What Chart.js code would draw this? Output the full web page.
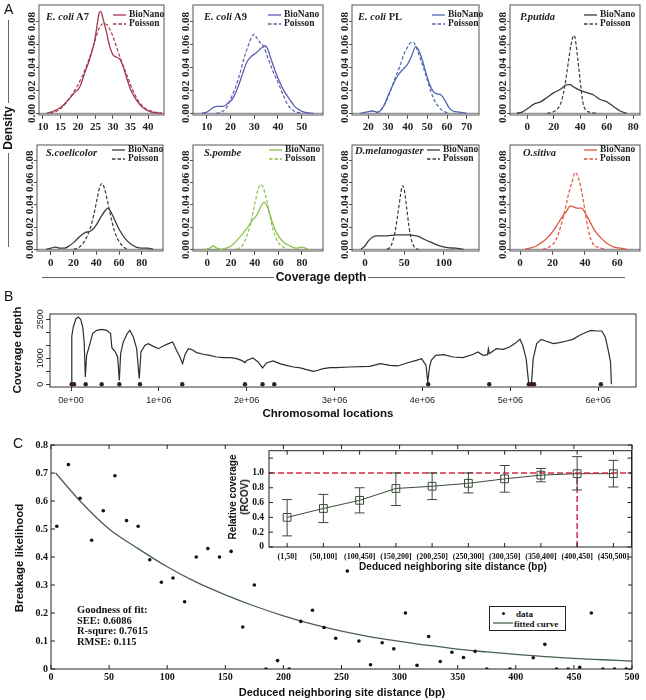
<!DOCTYPE html>
<html><head><meta charset="utf-8">
<script src="https://cdn.jsdelivr.net/npm/chart.js@4.4.1/dist/chart.umd.min.js"></script>
<style>
html,body{margin:0;padding:0;background:#fff;}
body{width:646px;height:700px;position:relative;overflow:hidden;}
canvas{position:absolute;}
.t{position:absolute;white-space:nowrap;line-height:1;color:#111;}
.sans{font-family:"Liberation Sans",Arial,sans-serif;font-weight:bold;}
.serif{font-family:"Liberation Serif","Times New Roman",serif;font-weight:bold;}
.ln{position:absolute;background:#666;}
</style></head><body>
<script>
// ================= DATA =================
// Panel A: kernel density of coverage depth  [depth, density]
const ecoliA7_BioNano = [[11,0],[13,0.002],[15,0.005],[17,0.011],[19,0.018],[20.5,0.023],[22,0.036],[23.3,0.047],[24.8,0.064],[25.5,0.078],[26,0.087],[26.5,0.089],[27.2,0.082],[28.2,0.070],[29.1,0.058],[30,0.051],[31,0.049],[32,0.047],[33,0.040],[34,0.030],[35,0.021],[36.6,0.012],[38.5,0.005],[41,0.001],[44,0]];
const ecoliA7_Poisson = [[12,0],[14,0.002],[16,0.007],[18,0.015],[20,0.025],[22,0.038],[24,0.055],[25,0.065],[26,0.074],[27,0.078],[28,0.078],[29,0.074],[30,0.067],[31,0.058],[32,0.049],[33,0.041],[34,0.033],[35,0.025],[36,0.018],[37,0.012],[38.5,0.006],[40,0.003],[42,0.001],[44,0]];
const ecoliA9_BioNano = [[8,0],[10,0.001],[12,0.004],[14,0.006],[17,0.006],[19,0.009],[21,0.013],[23,0.022],[25,0.034],[27,0.045],[29,0.050],[31,0.053],[33,0.057],[34.5,0.059],[35.5,0.057],[37,0.048],[39,0.036],[41,0.026],[43,0.018],[45,0.012],[47,0.006],[49,0.003],[51,0.001],[55,0]];
const ecoliA9_Poisson = [[14,0],[16,0.001],[18,0.004],[20,0.012],[22,0.022],[24,0.035],[26,0.050],[28,0.062],[29,0.067],[30,0.069],[31,0.066],[32,0.063],[34,0.058],[36,0.047],[38,0.036],[40,0.027],[42,0.017],[44,0.008],[46,0.003],[48,0.001],[50,0]];
const ecoliPL_BioNano = [[16,0],[19,0.001],[22,0.002],[25,0.001],[28,0.007],[30,0.015],[32,0.023],[35,0.033],[38,0.039],[40,0.043],[42,0.050],[44,0.058],[45,0.057],[47,0.049],[49,0.037],[51,0.026],[53,0.019],[55,0.017],[57,0.016],[59,0.011],[61,0.005],[63,0.002],[66,0.001],[70,0]];
const ecoliPL_Poisson = [[24,0],[27,0.004],[30,0.014],[33,0.028],[36,0.041],[38,0.051],[40,0.058],[42,0.062],[43,0.062],[44,0.059],[46,0.050],[48,0.040],[50,0.029],[52,0.018],[54,0.010],[56,0.005],[58,0.002],[61,0]];
const putida_BioNano = [[-8,0],[-4,0.001],[0,0.004],[5,0.008],[10,0.010],[15,0.014],[20,0.018],[25,0.021],[30,0.025],[32,0.025],[35,0.023],[40,0.020],[45,0.018],[50,0.016],[55,0.012],[60,0.010],[65,0.006],[70,0.002],[75,0]];
const putida_Poisson = [[15,0],[19,0.001],[22,0.003],[25,0.008],[27,0.016],[29,0.029],[31,0.045],[33,0.060],[35,0.068],[36,0.066],[37,0.058],[39,0.038],[40,0.027],[42,0.009],[44,0.003],[47,0.001],[52,0]];
const scoel_BioNano = [[-4,0],[0,0.001],[4,0.002],[8,0.001],[12,0.001],[16,0.003],[20,0.006],[25,0.011],[30,0.015],[34,0.016],[37,0.018],[40,0.022],[44,0.029],[48,0.035],[50,0.037],[52,0.035],[55,0.029],[60,0.018],[65,0.010],[70,0.005],[75,0.002],[80,0.001],[85,0.001],[90,0]];
const scoel_Poisson = [[20,0],[25,0.002],[30,0.008],[35,0.020],[38,0.032],[41,0.047],[43,0.056],[45,0.059],[47,0.055],[50,0.042],[53,0.028],[56,0.016],[60,0.007],[64,0.002],[68,0]];
const spombe_BioNano = [[-2,0],[2,0.001],[5,0.003],[8,0.001],[12,0],[16,0.001],[20,0.003],[25,0.008],[30,0.014],[35,0.021],[38,0.026],[40,0.028],[43,0.033],[46,0.040],[48,0.042],[50,0.040],[53,0.031],[56,0.021],[60,0.012],[65,0.006],[70,0.003],[75,0.001],[80,0.002],[85,0]];
const spombe_Poisson = [[25,0],[30,0.004],[35,0.017],[38,0.030],[41,0.045],[43,0.054],[45,0.058],[47,0.056],[50,0.045],[53,0.030],[56,0.016],[60,0.006],[64,0.002],[68,0]];
const dmel_BioNano = [[-5,0],[0,0.003],[5,0.008],[10,0.011],[15,0.012],[25,0.012],[40,0.013],[55,0.013],[65,0.012],[70,0.011],[75,0.009],[85,0.006],[95,0.003],[105,0.0015],[115,0.001],[125,0]];
const dmel_Poisson = [[28,0],[33,0.003],[38,0.015],[42,0.033],[45,0.048],[47,0.056],[48,0.057],[50,0.053],[53,0.037],[56,0.020],[60,0.006],[64,0.001],[68,0]];
const osat_BioNano = [[3,0],[6,0.001],[10,0.003],[15,0.008],[18,0.012],[22,0.020],[26,0.029],[29,0.035],[31,0.039],[33,0.038],[35,0.037],[38,0.037],[40,0.033],[43,0.025],[46,0.017],[50,0.010],[54,0.005],[58,0.002],[62,0.001],[66,0]];
const osat_Poisson = [[14,0],[18,0.002],[22,0.008],[25,0.020],[28,0.037],[30,0.050],[32,0.060],[34,0.069],[36,0.064],[38,0.052],[40,0.035],[42,0.018],[44,0.008],[46,0.003],[48,0.002],[50,0.001],[53,0]];
const densityYTicks = [0,0.02,0.04,0.06,0.08];
const densityYLabels = ['0.00','0.02','0.04','0.06','0.08'];
const ticksA7 = [10,15,20,25,30,35,40];
const ticksA9 = [10,20,30,40,50];
const ticksPL = [20,30,40,50,60,70];
const ticks0to80 = [0,20,40,60,80];
const ticksDmel = [0,50,100];
const ticksOsat = [0,20,40,60];

// Panel B: coverage depth along chromosome  [position (Mb), depth]
const coverageTrack = [[0.005,0],[0.009,1850],[0.026,2205],[0.057,2525],[0.083,2590],[0.11,2500],[0.133,2205],[0.15,1630],[0.163,280],[0.178,1115],[0.21,1500],[0.246,1950],[0.292,2075],[0.35,2115],[0.406,2075],[0.45,1950],[0.466,1400],[0.50,1270],[0.531,1050],[0.55,150],[0.565,1180],[0.595,1630],[0.64,1950],[0.67,2075],[0.71,1820],[0.747,1370],[0.777,220],[0.796,1245],[0.842,1500],[0.88,1565],[0.937,1460],[0.994,1370],[1.05,1475],[1.11,1565],[1.157,1630],[1.2,1310],[1.24,1050],[1.27,795],[1.297,1140],[1.335,1370],[1.373,1335],[1.43,1220],[1.505,1155],[1.58,1115],[1.657,1050],[1.733,1025],[1.81,1025],[1.885,985],[1.94,920],[1.98,835],[2.0,920],[2.07,1015],[2.13,860],[2.18,630],[2.226,820],[2.3,900],[2.377,795],[2.45,730],[2.53,665],[2.61,630],[2.68,565],[2.76,500],[2.81,540],[2.87,600],[2.95,640],[3.02,640],[3.17,665],[3.40,690],[3.52,795],[3.63,730],[3.72,705],[3.82,820],[3.93,920],[3.99,985],[4.04,730],[4.06,90],[4.08,665],[4.10,920],[4.15,1115],[4.24,1140],[4.35,1050],[4.46,1025],[4.58,1155],[4.63,1245],[4.69,1115],[4.74,1140],[4.75,1370],[4.76,1180],[4.84,1370],[4.92,1345],[4.99,1435],[5.05,1565],[5.11,1730],[5.14,1500],[5.18,985],[5.21,0],[5.24,0],[5.26,985],[5.30,1565],[5.35,1730],[5.41,1655],[5.49,1565],[5.56,1600],[5.64,1665],[5.71,1730],[5.79,1885],[5.87,2010],[5.92,2075],[5.98,2050],[6.04,2050],[6.08,1820],[6.11,1370],[6.14,860],[6.15,0]];
const breakpointSites = [0.008,0.034,0.167,0.349,0.55,0.785,1.266,1.98,2.18,2.313,4.065,4.76,5.21,5.24,5.27,6.03];
const bXTicks = [0,1,2,3,4,5,6];
const bXLabels = ['0e+00','1e+06','2e+06','3e+06','4e+06','5e+06','6e+06'];
const bYTicks = [0,500,1000,1500,2000,2500];
const bYLabels = ['0','','1000','','','2500'];

// Panel C: breakage likelihood vs neighbouring site distance
const breakageData = [[5,0.51],[15,0.73],[25,0.61],[35,0.46],[45,0.565],[55,0.69],[65,0.53],[75,0.51],[85,0.39],[95,0.31],[105,0.325],[115,0.24],[125,0.40],[135,0.43],[145,0.40],[155,0.42],[165,0.15],[175,0.30],[185,0],[195,0.03],[205,0],[215,0.17],[225,0.21],[235,0.148],[245,0.11],[255,0.35],[265,0.10],[275,0.015],[285,0.094],[295,0.072],[305,0.20],[315,0.013],[325,0.116],[335,0.027],[345,0.06],[355,0.041],[365,0.063],[375,0],[395,0],[415,0.04],[425,0.088],[435,0],[445,0],[455,0.006],[465,0.20],[475,0],[485,0],[495,0]];
const fittedCurve = [[4,0.70],[25,0.60],[50,0.50],[75,0.43],[100,0.365],[125,0.31],[150,0.265],[175,0.225],[200,0.19],[225,0.16],[250,0.135],[275,0.115],[300,0.099],[325,0.084],[350,0.071],[375,0.061],[400,0.052],[425,0.044],[450,0.038],[475,0.033],[500,0.028]];
const cXTicks = [0,50,100,150,200,250,300,350,400,450,500];
const cYTicks = [0,0.1,0.2,0.3,0.4,0.5,0.6,0.7,0.8];
const cYLabels = ['0','0.1','0.2','0.3','0.4','0.5','0.6','0.7','0.8'];

// Inset: relative coverage by distance bin
const rcovCategories = ['(1,50]','(50,100]','(100,450]','(150,200]','(200,250]','(250,300]','(300,350]','(350,400]','(400,450]','(450,500]'];
const rcovMean = [0.40,0.52,0.63,0.79,0.82,0.86,0.92,0.97,0.99,0.99];
const rcovLow  = [0.15,0.33,0.46,0.56,0.64,0.73,0.74,0.88,0.77,0.81];
const rcovHigh = [0.64,0.71,0.80,1.00,1.00,1.00,1.10,1.06,1.22,1.17];
const rcovYTicks = [0,0.2,0.4,0.6,0.8,1.0,1.2];
const rcovYLabels = ['0','0.2','0.4','0.6','0.8','1.0',''];
const rcovReference = 1.0;
const rcovCutoffIndex = 8;

// ================= HELPERS =================
const SERIF = '"Liberation Serif","Times New Roman",serif';
const SANS = '"Liberation Sans",Arial,sans-serif';
Chart.defaults.font.family = SANS;
const toXY = a => a.map(p => ({x:p[0], y:p[1]}));

function place(box, W, H, P) {
  const c = document.createElement('canvas');
  const w = Math.round(box[2]-box[0] + 2*P + W), h = Math.round(box[3]-box[1] + 2*P + H);
  c.width = w; c.height = h;
  c.style.left = (box[0]-P-W)+'px'; c.style.top = (box[1]-P)+'px';
  c.style.width = w+'px'; c.style.height = h+'px';
  document.body.appendChild(c);
  return c;
}
function frameP(color, fill) {
  return {id:'frameP',
    beforeDraw(ch){ if(!fill) return; const a=ch.chartArea,c=ch.ctx; c.save(); c.fillStyle=fill; c.fillRect(a.left,a.top,a.right-a.left,a.bottom-a.top); c.restore(); },
    afterDraw(ch){ const a=ch.chartArea,c=ch.ctx; c.save(); c.strokeStyle=color; c.lineWidth=1; c.strokeRect(a.left,a.top,a.right-a.left,a.bottom-a.top); c.restore(); }};
}
function hLineP(v, color) {
  return {id:'hLineP', beforeDatasetsDraw(ch){ const a=ch.chartArea,c=ch.ctx,y=ch.scales.y.getPixelForValue(v); c.save(); c.strokeStyle=color; c.lineWidth=1; c.beginPath(); c.moveTo(a.left,y); c.lineTo(a.right,y); c.stroke(); c.restore(); }};
}
function rotYP(vals, labels, dx, font, color) {
  return {id:'rotYP', afterDraw(ch){ const a=ch.chartArea,c=ch.ctx; c.save(); c.font=font; c.fillStyle=color; c.textAlign='center'; c.textBaseline='middle';
    vals.forEach((v,i)=>{ if(!labels[i]) return; const y=ch.scales.y.getPixelForValue(v); c.save(); c.translate(a.left-dx,y); c.rotate(-Math.PI/2); c.fillText(labels[i],0,0); c.restore(); });
    c.restore(); }};
}
function inTicksP(xs, ys, len, color) {
  return {id:'inTicksP', afterDraw(ch){ const a=ch.chartArea,c=ch.ctx; c.save(); c.strokeStyle=color; c.lineWidth=1; c.beginPath();
    xs.forEach(v=>{const p=ch.scales.x.getPixelForValue(v); c.moveTo(p,a.bottom); c.lineTo(p,a.bottom-len); c.moveTo(p,a.top); c.lineTo(p,a.top+len);});
    ys.forEach(v=>{const p=ch.scales.y.getPixelForValue(v); c.moveTo(a.left,p); c.lineTo(a.left+len,p); c.moveTo(a.right,p); c.lineTo(a.right-len,p);});
    c.stroke(); c.restore(); }};
}
function errBarsP(low, high, cap, color) {
  return {id:'errBarsP', afterDatasetsDraw(ch){ const c=ch.ctx; c.save(); c.strokeStyle=color; c.lineWidth=1; c.beginPath();
    low.forEach((l,i)=>{ const x=ch.scales.x.getPixelForValue(i), y1=ch.scales.y.getPixelForValue(l), y2=ch.scales.y.getPixelForValue(high[i]);
      c.moveTo(x,y1); c.lineTo(x,y2); c.moveTo(x-cap,y1); c.lineTo(x+cap,y1); c.moveTo(x-cap,y2); c.lineTo(x+cap,y2); });
    c.stroke(); c.restore(); }};
}
function txt(x, y, html, cls, size, o) {
  o = o || {};
  const d = document.createElement('div');
  d.className = 't ' + cls; d.innerHTML = html;
  d.style.fontSize = size+'px'; d.style.left = x+'px'; d.style.top = y+'px';
  let tr = o.center ? 'translate(-50%,-50%)' : 'translateY(-50%)';
  if (o.rot) tr += ' rotate(-90deg)';
  d.style.transform = tr;
  if (o.weight) d.style.fontWeight = o.weight;
  if (o.color) d.style.color = o.color;
  document.body.appendChild(d);
}
function line(x, y, w, h, color) {
  const d = document.createElement('div'); d.className='ln';
  d.style.left=x+'px'; d.style.top=y+'px'; d.style.width=w+'px'; d.style.height=h+'px';
  if (color) d.style.background = color;
  document.body.appendChild(d);
}
function sample(x, y, w, color, dash, lw) {
  const d = document.createElement('div');
  d.style.position='absolute'; d.style.left=x+'px'; d.style.top=(y-2)+'px';
  d.innerHTML = `<svg width="${w}" height="4" style="display:block"><line x1="0" y1="2" x2="${w}" y2="2" stroke="${color}" stroke-width="${lw||1.3}" ${dash?'stroke-dasharray="3.5,2"':''}/></svg>`;
  document.body.appendChild(d);
}
const baseOpts = {responsive:false, animation:false, devicePixelRatio:1, events:[]};

// ================= PANEL A =================
const row1Y = [-0.0015, 0.0946], row2Y = [-0.0015, 0.0935];
const densityPanels = [
  {title:'<i>E. coli</i> A7', box:[39,5,164,115], xr:[8.86,44.57], yr:row1Y, xt:ticksA7, bio:ecoliA7_BioNano, poi:ecoliA7_Poisson, color:'#a23a4c', tp:[46,16.5], leg:[113,15,24]},
  {title:'<i>E. coli</i> A9', box:[193,5,323,115], xr:[4.23,58.97], yr:row1Y, xt:ticksA9, bio:ecoliA9_BioNano, poi:ecoliA9_Poisson, color:'#5a5cb3', tp:[204,16.5], leg:[268,15,24]},
  {title:'<i>E. coli</i> PL', box:[352,5,479,115], xr:[11.7,76.25], yr:row1Y, xt:ticksPL, bio:ecoliPL_BioNano, poi:ecoliPL_Poisson, color:'#4e66b6', tp:[358,16.5], leg:[432,15,24]},
  {title:'<i>P.putida</i>', box:[510,5,640,115], xr:[-13.1,85.06], yr:row1Y, xt:ticks0to80, bio:putida_BioNano, poi:putida_Poisson, color:'#3c3c3c', tp:[520,16.5], leg:[584,15,24]},
  {title:'<i>S.coelicolor</i>', box:[37,145,163,251], xr:[-12.2,98.6], yr:row2Y, xt:ticks0to80, bio:scoel_BioNano, poi:scoel_Poisson, color:'#3c3c3c', tp:[46,152.5], leg:[112,150,159]},
  {title:'<i>S.pombe</i>', box:[193,145,323,251], xr:[-12.1,97.8], yr:row2Y, xt:ticks0to80, bio:spombe_BioNano, poi:spombe_Poisson, color:'#8cbf4c', tp:[204,152.5], leg:[269,150,159]},
  {title:'<i>D.melanogaster</i>', box:[352,145,479,251], xr:[-16.4,144.7], yr:row2Y, xt:ticksDmel, bio:dmel_BioNano, poi:dmel_Poisson, color:'#3c3c3c', tp:[355,151], leg:[427,150,159]},
  {title:'<i>O.sitiva</i>', box:[510,145,640,251], xr:[-6.2,74], yr:row2Y, xt:ticksOsat, bio:osat_BioNano, poi:osat_Poisson, color:'#e0533e', tp:[523,153], leg:[584,150,159]}
];
densityPanels.forEach(p => {
  const P=10, W=8, H=18;
  const cv = place(p.box, W, H, P);
  new Chart(cv, {
    type:'line',
    data:{datasets:[
      {data:toXY(p.bio), borderColor:p.color, borderWidth:1.3, pointRadius:0, cubicInterpolationMode:'monotone'},
      {data:toXY(p.poi), borderColor:p.color, borderWidth:1.2, borderDash:[3.5,2], pointRadius:0, cubicInterpolationMode:'monotone'}
    ]},
    options:Object.assign({}, baseOpts, {
      layout:{padding:P},
      plugins:{legend:{display:false}, tooltip:{enabled:false}},
      scales:{
        x:{type:'linear', min:p.xr[0], max:p.xr[1], afterBuildTicks:s=>{s.ticks=p.xt.map(v=>({value:v}));}, afterFit:s=>{s.height=H;},
           grid:{display:true, drawOnChartArea:false, drawTicks:true, tickLength:4, color:'#555'}, border:{display:false},
           ticks:{autoSkip:false, maxRotation:0, minRotation:0, padding:1.5, color:'#222', font:{family:SERIF, weight:'bold', size:11}, callback:v=>String(v)}},
        y:{type:'linear', min:p.yr[0], max:p.yr[1], afterBuildTicks:s=>{s.ticks=densityYTicks.map(v=>({value:v}));}, afterFit:s=>{s.width=W;},
           grid:{display:true, drawOnChartArea:false, drawTicks:true, tickLength:3, color:'#555'}, border:{display:false}, ticks:{display:false}}
      }
    }),
    plugins:[frameP('#555'), hLineP(0,'#7a7a7a'), rotYP(densityYTicks, densityYLabels, 6.5, 'bold 11px '+SERIF, '#222')]
  });
  txt(p.tp[0], p.tp[1], p.title, 'serif', 10.5, {color:'#222'});
  sample(p.leg[0], p.leg[1], 13, p.color, false);
  sample(p.leg[0], p.leg[2], 13, p.color, true);
  txt(p.leg[0]+16, p.leg[1], 'BioNano', 'serif', 9.5, {color:'#222'});
  txt(p.leg[0]+16, p.leg[2], 'Poisson', 'serif', 9.5, {color:'#222'});
});
// Panel A labels
txt(4, 8.5, 'A', 'sans', 14, {weight:'normal'});
txt(8, 128, 'Density', 'sans', 12, {center:true, rot:true});
line(7.5, 20, 1, 83); line(7.5, 153, 1, 94);
txt(321, 277, 'Coverage depth', 'sans', 12, {center:true});
line(42, 277, 232, 1); line(368, 277, 257, 1);

// ================= PANEL B =================
(() => {
  const box=[50,313.7,636,386.7], P=10, W=12, H=20;
  const cv = place(box, W, H, P);
  new Chart(cv, {
    type:'line',
    data:{datasets:[
      {data:breakpointSites.map(v=>({x:v,y:0})), showLine:false, pointRadius:2.2, pointBorderWidth:0, pointBackgroundColor:'#3a1c1c'},
      {data:toXY(coverageTrack), borderColor:'#263326', borderWidth:1.2, pointRadius:0, tension:0}
    ]},
    options:Object.assign({}, baseOpts, {
      layout:{padding:P},
      plugins:{legend:{display:false}, tooltip:{enabled:false}},
      scales:{
        x:{type:'linear', min:-0.239, max:6.43, afterBuildTicks:s=>{s.ticks=bXTicks.map(v=>({value:v}));}, afterFit:s=>{s.height=H;},
           grid:{display:true, drawOnChartArea:false, drawTicks:true, tickLength:4, color:'#333'}, border:{display:false},
           ticks:{autoSkip:false, maxRotation:0, minRotation:0, padding:4.5, color:'#222', font:{family:SANS, size:9}, callback:(v,i)=>bXLabels[i]}},
        y:{type:'linear', min:-104, max:2704, afterBuildTicks:s=>{s.ticks=bYTicks.map(v=>({value:v}));}, afterFit:s=>{s.width=W;},
           grid:{display:true, drawOnChartArea:false, drawTicks:true, tickLength:4, color:'#333'}, border:{display:false}, ticks:{display:false}}
      }
    }),
    plugins:[frameP('#333'), rotYP(bYTicks, bYLabels, 9.5, '9px '+SANS, '#222')]
  });
})();
txt(4, 296, 'B', 'sans', 14, {weight:'normal'});
txt(18, 350, 'Coverage depth', 'sans', 11.5, {center:true, rot:true});
txt(328, 414, 'Chromosomal locations', 'sans', 11.5, {center:true});

// ================= PANEL C =================
(() => {
  const box=[51,445,632,669], P=10, W=32, H=16;
  const cv = place(box, W, H, P);
  new Chart(cv, {
    type:'line',
    data:{datasets:[
      {data:toXY(breakageData), showLine:false, pointRadius:1.8, pointBorderWidth:0, pointBackgroundColor:'#111'},
      {data:toXY(fittedCurve), borderColor:'#4a604a', borderWidth:1.3, pointRadius:0, cubicInterpolationMode:'monotone'}
    ]},
    options:Object.assign({}, baseOpts, {
      layout:{padding:P},
      plugins:{legend:{display:false}, tooltip:{enabled:false}},
      scales:{
        x:{type:'linear', min:0, max:500, afterBuildTicks:s=>{s.ticks=cXTicks.map(v=>({value:v}));}, afterFit:s=>{s.height=H;},
           grid:{display:false, drawTicks:false}, border:{display:false},
           ticks:{autoSkip:false, maxRotation:0, minRotation:0, padding:2, color:'#111', font:{family:SERIF, weight:'bold', size:10}, callback:v=>String(v)}},
        y:{type:'linear', min:0, max:0.8, afterBuildTicks:s=>{s.ticks=cYTicks.map(v=>({value:v}));}, afterFit:s=>{s.width=W;},
           grid:{display:false, drawTicks:false}, border:{display:false},
           ticks:{padding:3, color:'#111', font:{family:SERIF, weight:'bold', size:10}, callback:(v,i)=>cYLabels[i]}}
      }
    }),
    plugins:[frameP('#222'), inTicksP(cXTicks, cYTicks, 4, '#222')]
  });
})();
// Inset
(() => {
  const box=[269,446,632,547], P=6, W=22, H=16;
  const cv = place(box, W, H, P);
  const idx = rcovCategories.map((c,i)=>i);
  new Chart(cv, {
    type:'line',
    data:{datasets:[
      {data:[{x:-0.5,y:rcovReference},{x:rcovCategories.length-0.5,y:rcovReference}], borderColor:'#d42a4a', borderWidth:1.5, borderDash:[6,3], pointRadius:0},
      {data:[{x:rcovCutoffIndex,y:0},{x:rcovCutoffIndex,y:rcovReference}], borderColor:'#d42a4a', borderWidth:1.5, borderDash:[6,3], pointRadius:0},
      {data:idx.map(i=>({x:i,y:rcovMean[i]})), borderColor:'#3b4a3b', borderWidth:1, pointStyle:'rect', pointRadius:5.5, pointBorderWidth:1, pointBorderColor:'#3b4a3b', pointBackgroundColor:'rgba(0,0,0,0)'}
    ]},
    options:Object.assign({}, baseOpts, {
      layout:{padding:P},
      plugins:{legend:{display:false}, tooltip:{enabled:false}},
      scales:{
        x:{type:'linear', min:-0.5, max:rcovCategories.length-0.5, afterBuildTicks:s=>{s.ticks=idx.map(v=>({value:v}));}, afterFit:s=>{s.height=H;},
           grid:{display:false, drawTicks:false}, border:{display:false},
           ticks:{autoSkip:false, maxRotation:0, minRotation:0, padding:5, color:'#111', font:{family:SERIF, weight:'bold', size:8}, callback:v=>rcovCategories[v]}},
        y:{type:'linear', min:0, max:1.3, afterBuildTicks:s=>{s.ticks=rcovYTicks.map(v=>({value:v}));}, afterFit:s=>{s.width=W;},
           grid:{display:false, drawTicks:false}, border:{display:false},
           ticks:{padding:5, color:'#111', font:{family:SERIF, weight:'bold', size:9.5}, callback:(v,i)=>rcovYLabels[i]}}
      }
    }),
    plugins:[frameP('#222','#fff'), inTicksP(idx, rcovYTicks, 4, '#222'), errBarsP(rcovLow, rcovHigh, 5, '#3b4a3b')]
  });
})();
txt(13, 443, 'C', 'sans', 14, {weight:'normal'});
txt(19.5, 557.5, 'Breakage likelihood', 'sans', 11.5, {center:true, rot:true});
txt(342, 691.5, 'Deduced neighboring site distance (bp)', 'sans', 11, {center:true});
txt(232.5, 497, 'Relative coverage', 'sans', 10, {center:true, rot:true});
txt(244.5, 497, '(RCOV)', 'sans', 10, {center:true, rot:true});
txt(453, 567, 'Deduced neighboring site distance (bp)', 'sans', 10, {center:true});
txt(77, 610, 'Goodness of fit:', 'serif', 10.5);
txt(77, 620.5, 'SEE: 0.6086', 'serif', 10.5);
txt(77, 631, 'R-squre: 0.7615', 'serif', 10.5);
txt(77, 641.5, 'RMSE: 0.115', 'serif', 10.5);
// C legend box
(() => {
  const d=document.createElement('div');
  d.style.cssText='position:absolute;left:489px;top:606px;width:75px;height:23px;border:1px solid #222;background:#fff;';
  document.body.appendChild(d);
  const dot=document.createElement('div');
  dot.style.cssText='position:absolute;left:501.5px;top:611.5px;width:3.6px;height:3.6px;border-radius:50%;background:#111;';
  document.body.appendChild(dot);
  sample(493, 623, 20, '#4a604a', false, 1.3);
  txt(516, 613.5, 'data', 'serif', 9);
  txt(514, 623.5, 'fitted curve', 'serif', 9);
})();
</script>
</body></html>
